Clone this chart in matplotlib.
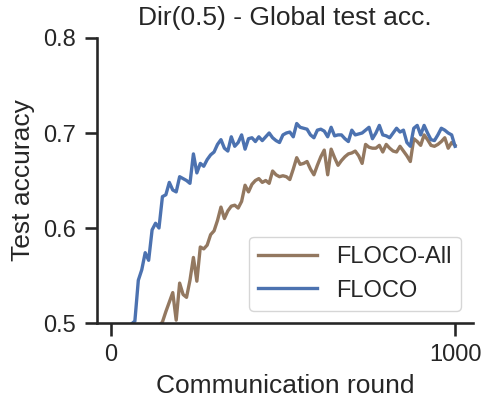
import numpy as np
import matplotlib
matplotlib.use("Agg")
import matplotlib.pyplot as plt

rounds = list(range(0, 1001, 10))

floco = [0.10, 0.20, 0.30, 0.37, 0.42, 0.46, 0.499, 0.502, 0.545, 0.556,
         0.574, 0.566, 0.598, 0.605, 0.600, 0.633, 0.635, 0.648, 0.640, 0.638,
         0.654, 0.652, 0.650, 0.647, 0.678, 0.658, 0.668, 0.665, 0.672, 0.677,
         0.680, 0.688, 0.693, 0.684, 0.681, 0.696, 0.686, 0.690, 0.698, 0.683,
         0.694, 0.695, 0.691, 0.696, 0.692, 0.696, 0.700, 0.695, 0.692, 0.690,
         0.698, 0.700, 0.701, 0.696, 0.710, 0.706, 0.705, 0.704, 0.698, 0.695,
         0.703, 0.704, 0.702, 0.696, 0.706, 0.697, 0.698, 0.698, 0.694, 0.691,
         0.703, 0.698, 0.699, 0.700, 0.703, 0.706, 0.694, 0.700, 0.708, 0.698,
         0.697, 0.695, 0.700, 0.705, 0.701, 0.703, 0.690, 0.686, 0.705, 0.708,
         0.698, 0.708, 0.700, 0.693, 0.692, 0.698, 0.705, 0.703, 0.700, 0.698,
         0.686]

floco_all = [0.15, 0.22, 0.28, 0.33, 0.37, 0.40, 0.43, 0.45, 0.46, 0.47,
             0.48, 0.485, 0.49, 0.495, 0.497, 0.501, 0.512, 0.522, 0.532, 0.503,
             0.542, 0.530, 0.527, 0.545, 0.569, 0.544, 0.580, 0.578, 0.582, 0.593,
             0.597, 0.608, 0.622, 0.610, 0.618, 0.623, 0.624, 0.621, 0.628, 0.645,
             0.638, 0.646, 0.650, 0.652, 0.648, 0.650, 0.647, 0.660, 0.656, 0.654,
             0.655, 0.654, 0.651, 0.662, 0.674, 0.667, 0.668, 0.670, 0.662, 0.656,
             0.666, 0.675, 0.682, 0.656, 0.683, 0.674, 0.666, 0.671, 0.675, 0.678,
             0.679, 0.681, 0.676, 0.668, 0.688, 0.685, 0.684, 0.684, 0.687, 0.680,
             0.688, 0.684, 0.681, 0.680, 0.686, 0.681, 0.676, 0.670, 0.694, 0.691,
             0.687, 0.698, 0.693, 0.687, 0.686, 0.688, 0.691, 0.695, 0.684, 0.690,
             0.687]

x_ticks = [0, 1000]
y_ticks = [0.5, 0.6, 0.7, 0.8]

plt.rcParams['font.family'] = ['Liberation Sans', 'DejaVu Sans']
text_color = '#262626'
plt.rcParams['text.color'] = text_color
plt.rcParams['axes.labelcolor'] = text_color
plt.rcParams['xtick.color'] = text_color
plt.rcParams['ytick.color'] = text_color

fig = plt.figure(figsize=(4.82, 3.98), dpi=100)
ax = fig.add_axes([97/482, 75/398, 376/482, 285/398])

ax.plot(rounds, floco_all, color='#937860', lw=2.4, label='FLOCO-All')
ax.plot(rounds, floco, color='#4C72B0', lw=2.4, label='FLOCO')

ax.set_xlim(-40, 1052)
ax.set_ylim(0.5, 0.8)
ax.set_xticks(x_ticks)
ax.set_yticks(y_ticks)
ax.set_yticklabels([f"{v:.1f}" for v in y_ticks])

for s in ['top', 'right']:
    ax.spines[s].set_visible(False)
for s in ['left', 'bottom']:
    ax.spines[s].set_linewidth(1.875)
    ax.spines[s].set_color(text_color)
ax.tick_params(axis='both', which='major', labelsize=17, length=9, width=1.875, pad=6)

ax.set_xlabel('Communication round', fontsize=19, labelpad=6)
ax.set_ylabel('Test accuracy', fontsize=19, labelpad=6)
ax.set_title('Dir(0.5) - Global test acc.', fontsize=19, pad=9)

leg = ax.legend(loc='lower right', fontsize=17, frameon=True, fancybox=True,
                framealpha=0.8, edgecolor='0.8', borderaxespad=0.5,
                handlelength=2.5, handletextpad=0.8)

fig.savefig('out.png', dpi=100)
